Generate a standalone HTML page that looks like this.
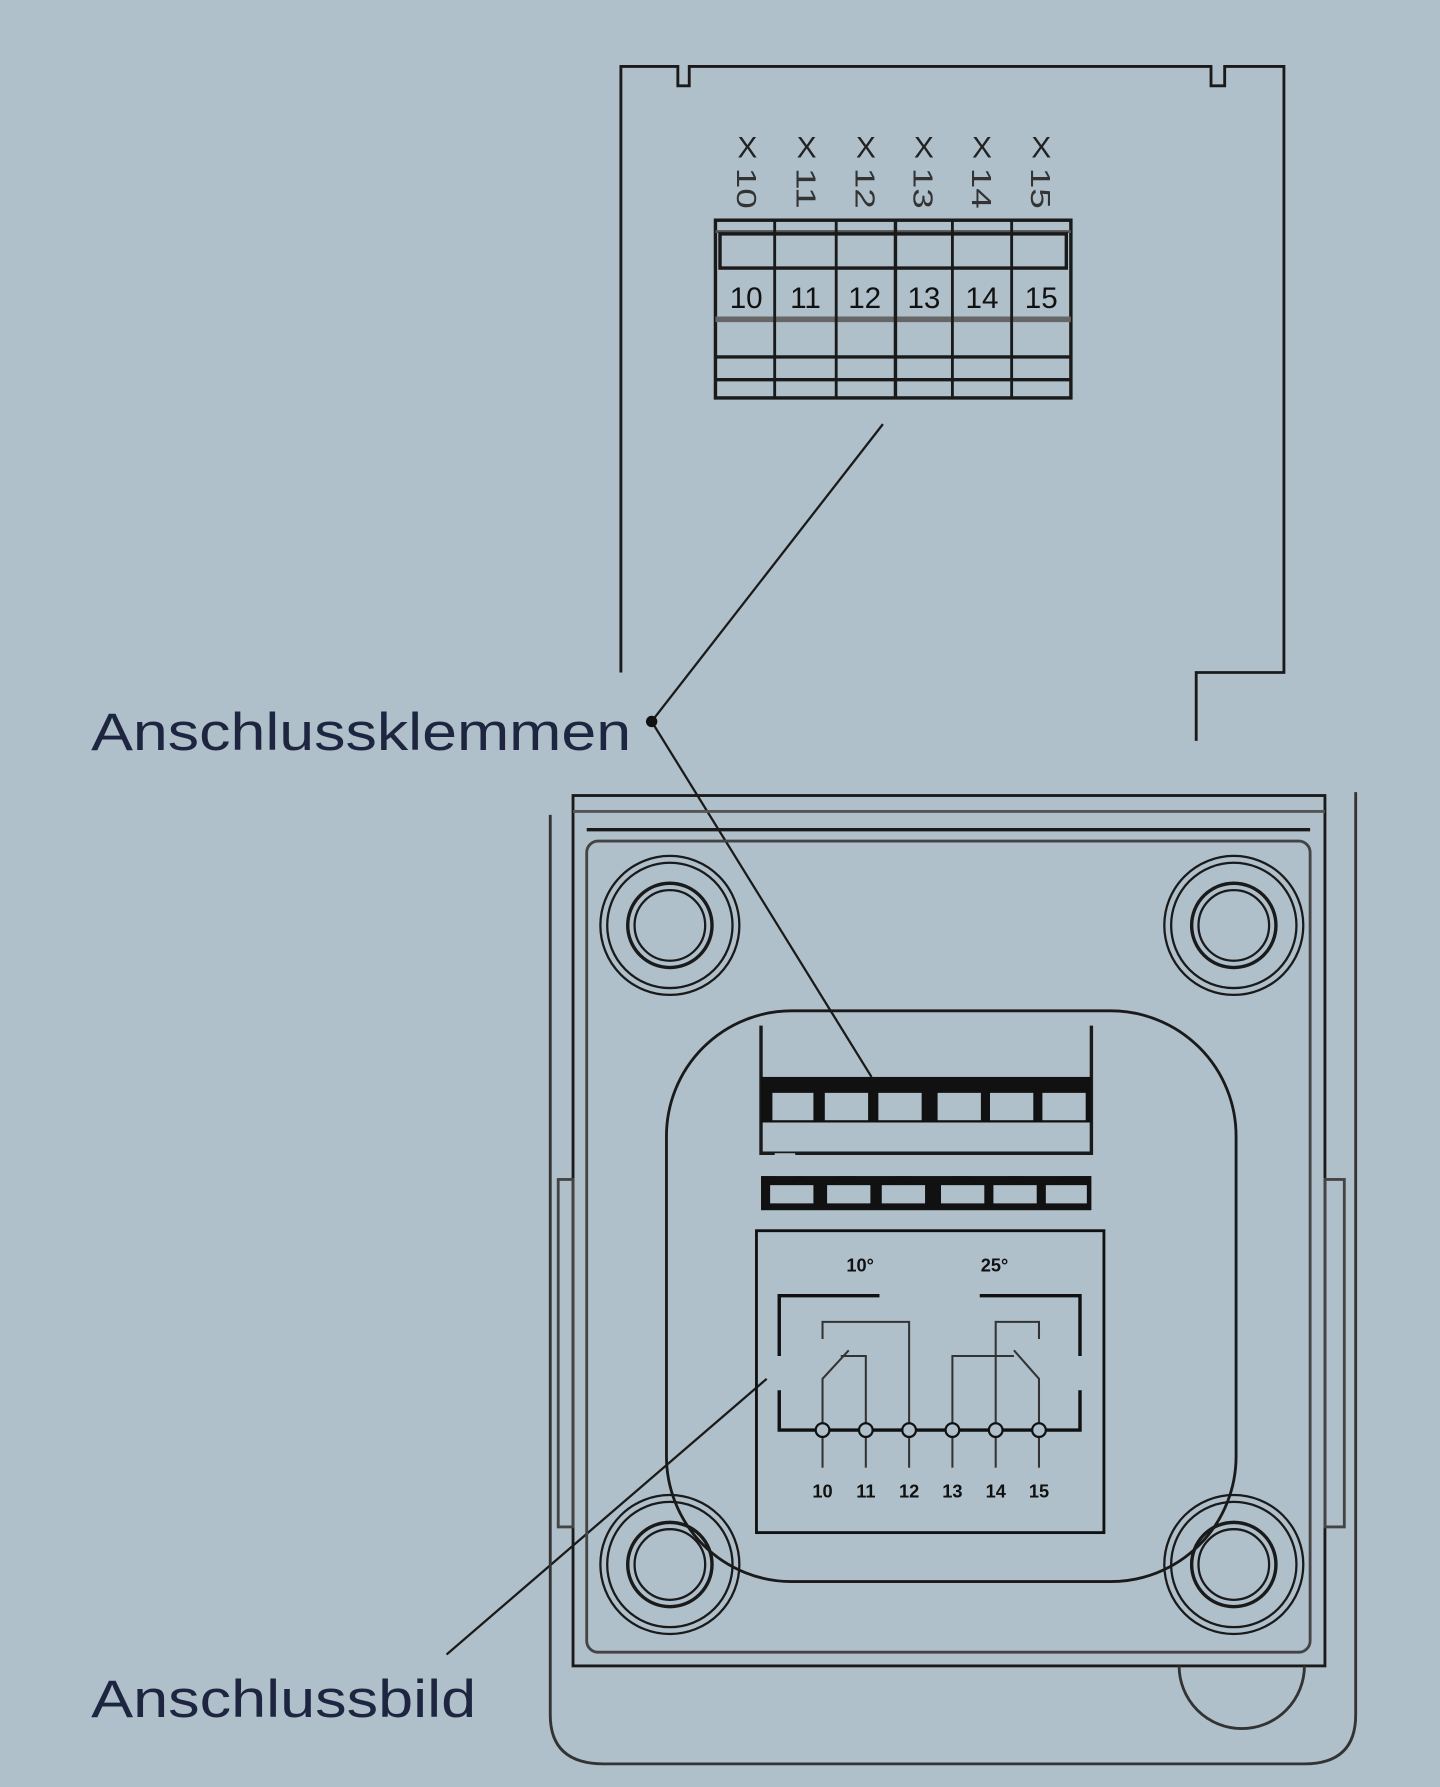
<!DOCTYPE html>
<html><head><meta charset="utf-8"><style>
html,body{margin:0;padding:0;background:#afc0ca;}
svg{display:block;}
text{font-family:"Liberation Sans",sans-serif;}
</style></head><body>
<svg width="1440" height="1787" viewBox="0 0 1264 1568" xmlns="http://www.w3.org/2000/svg">
<rect width="1264" height="1568" fill="#afc0ca"/>
<g fill="none" stroke="#1a1a1a" stroke-width="2.5">
<path d="M545,590 L545,58 L595,58 L595,75 L605,75 L605,58 L1063,58 L1063,75 L1075,75 L1075,58 L1127,58 L1127,590 L1050,590 L1050,650"/>
<rect x="628" y="193" width="312" height="156" stroke-width="3"/>
<line x1="628" y1="203" x2="940" y2="203" stroke="#555"/>
<rect x="632" y="205" width="304" height="30" stroke-width="3"/>
<line x1="628" y1="280" x2="940" y2="280" stroke="#666" stroke-width="5"/>
<line x1="628" y1="313" x2="940" y2="313" stroke-width="3"/>
<line x1="628" y1="333" x2="940" y2="333" stroke-width="3"/>
<g stroke-width="2.5">
<line x1="680" y1="193" x2="680" y2="349"/><line x1="734" y1="193" x2="734" y2="349"/>
<line x1="786" y1="193" x2="786" y2="349" stroke-width="3"/><line x1="836" y1="193" x2="836" y2="349"/>
<line x1="888" y1="193" x2="888" y2="349"/>
</g>
<line x1="775" y1="372" x2="572" y2="633" stroke-width="2"/>
<line x1="572" y1="633" x2="765" y2="945" stroke-width="2"/>
<line x1="673" y1="1210" x2="392" y2="1452" stroke-width="2"/>
<path d="M483,715 L483,1505 Q483,1548 530,1548 L1145,1548 Q1190,1548 1190,1505 L1190,695" stroke="#333"/>
<rect x="503" y="698" width="660" height="764" stroke-width="2.5"/>
<line x1="503" y1="712" x2="1163" y2="712" stroke="#555"/>
<line x1="515" y1="728" x2="1150" y2="728" stroke-width="3"/>
<rect x="515" y="738" width="635" height="712" rx="10" stroke="#444"/>
<rect x="490" y="1035" width="13" height="305" stroke="#444"/>
<rect x="1163" y="1035" width="17" height="305" stroke="#444"/>
<path d="M1035,1462 A55,55 0 0 0 1145,1462" stroke="#333"/>
<g stroke-width="2">
<circle cx="588" cy="812" r="61"/><circle cx="588" cy="812" r="55"/><circle cx="588" cy="812" r="37" stroke-width="3"/><circle cx="588" cy="812" r="31"/>
<circle cx="1083" cy="812" r="61"/><circle cx="1083" cy="812" r="55"/><circle cx="1083" cy="812" r="37" stroke-width="3"/><circle cx="1083" cy="812" r="31"/>
<circle cx="588" cy="1373" r="61"/><circle cx="588" cy="1373" r="55"/><circle cx="588" cy="1373" r="37" stroke-width="3"/><circle cx="588" cy="1373" r="31"/>
<circle cx="1083" cy="1373" r="61"/><circle cx="1083" cy="1373" r="55"/><circle cx="1083" cy="1373" r="37" stroke-width="3"/><circle cx="1083" cy="1373" r="31"/>
</g>
<rect x="585" y="887" width="500" height="501" rx="110" stroke-width="2.5"/>
<path d="M668,900 L668,1012 L958,1012 L958,900" stroke-width="3"/>
</g>
<rect x="668" y="945" width="290" height="40" fill="#111"/>
<g fill="#afc0ca" stroke="#111" stroke-width="2">
<rect x="677" y="958" width="38" height="26"/><rect x="723" y="958" width="40" height="26"/><rect x="770" y="958" width="40" height="26"/>
<rect x="822" y="958" width="40" height="26"/><rect x="868" y="958" width="40" height="26"/><rect x="914" y="958" width="40" height="26"/>
</g>
<rect x="668" y="1032" width="290" height="30" fill="#111"/>
<g fill="#afc0ca">
<rect x="680" y="1012" width="18" height="20"/><rect x="705" y="1014" width="30" height="18"/><rect x="752" y="1014" width="33" height="18"/><rect x="800" y="1014" width="35" height="18"/><rect x="852" y="1014" width="33" height="18"/><rect x="898" y="1014" width="33" height="18"/>
<rect x="676" y="1040" width="38" height="16"/><rect x="726" y="1040" width="38" height="16"/><rect x="774" y="1040" width="38" height="16"/>
<rect x="826" y="1040" width="38" height="16"/><rect x="872" y="1040" width="38" height="16"/><rect x="918" y="1040" width="36" height="16"/>
</g>
<g fill="none" stroke="#111" stroke-width="2.5">
<rect x="664" y="1080" width="305" height="265"/>
<path d="M684,1190 L684,1137 L772,1137 M860,1137 L948,1137 L948,1190 M684,1220 L684,1255 L948,1255 L948,1220" stroke-width="3"/>
<g stroke-width="1.8" stroke="#333">
<path d="M722,1175 L722,1160 L798,1160 L798,1255"/>
<path d="M722,1255 L722,1210 L745,1185"/>
<path d="M738,1190 L760,1190 L760,1255"/>
<path d="M836,1255 L836,1190 L890,1190"/>
<path d="M874,1255 L874,1160 L912,1160 L912,1175"/>
<path d="M912,1255 L912,1210 L890,1185"/>
<line x1="722" y1="1255" x2="722" y2="1288"/><line x1="760" y1="1255" x2="760" y2="1288"/><line x1="798" y1="1255" x2="798" y2="1288"/>
<line x1="836" y1="1255" x2="836" y2="1288"/><line x1="874" y1="1255" x2="874" y2="1288"/><line x1="912" y1="1255" x2="912" y2="1288"/>
</g>
<g fill="#afc0ca" stroke-width="2">
<circle cx="722" cy="1255" r="6"/><circle cx="760" cy="1255" r="6"/><circle cx="798" cy="1255" r="6"/>
<circle cx="836" cy="1255" r="6"/><circle cx="874" cy="1255" r="6"/><circle cx="912" cy="1255" r="6"/>
</g>
</g>
<circle cx="572" cy="633" r="5" fill="#111"/>
<g font-size="16" font-weight="bold" fill="#111" text-anchor="middle">
<text x="755" y="1116">10°</text><text x="873" y="1116">25°</text>
<text x="722" y="1314">10</text><text x="760" y="1314">11</text><text x="798" y="1314">12</text>
<text x="836" y="1314">13</text><text x="874" y="1314">14</text><text x="912" y="1314">15</text>
</g>
<g font-size="26" fill="#222" text-anchor="middle" font-family="Liberation Mono">
<text x="656" y="138">X</text><text x="708" y="138">X</text><text x="760" y="138">X</text>
<text x="811" y="138">X</text><text x="862" y="138">X</text><text x="914" y="138">X</text>
</g>
<g font-size="24" fill="#333" font-family="Liberation Mono">
<text transform="translate(647,147) rotate(90)" textLength="36" lengthAdjust="spacingAndGlyphs">10</text><text transform="translate(699,147) rotate(90)" textLength="36" lengthAdjust="spacingAndGlyphs">11</text>
<text transform="translate(751,147) rotate(90)" textLength="36" lengthAdjust="spacingAndGlyphs">12</text><text transform="translate(802,147) rotate(90)" textLength="36" lengthAdjust="spacingAndGlyphs">13</text>
<text transform="translate(853,147) rotate(90)" textLength="36" lengthAdjust="spacingAndGlyphs">14</text><text transform="translate(905,147) rotate(90)" textLength="36" lengthAdjust="spacingAndGlyphs">15</text>
</g>
<g font-size="26" fill="#111" text-anchor="middle">
<text x="655" y="270">10</text><text x="707" y="270">11</text><text x="759" y="270">12</text>
<text x="811" y="270">13</text><text x="862" y="270">14</text><text x="914" y="270">15</text>
</g>
<text x="80" y="658" font-size="46" fill="#1e2540" textLength="474" lengthAdjust="spacingAndGlyphs">Anschlussklemmen</text>
<text x="80" y="1507" font-size="46" fill="#1e2540" textLength="338" lengthAdjust="spacingAndGlyphs">Anschlussbild</text>
</svg>
</body></html>
